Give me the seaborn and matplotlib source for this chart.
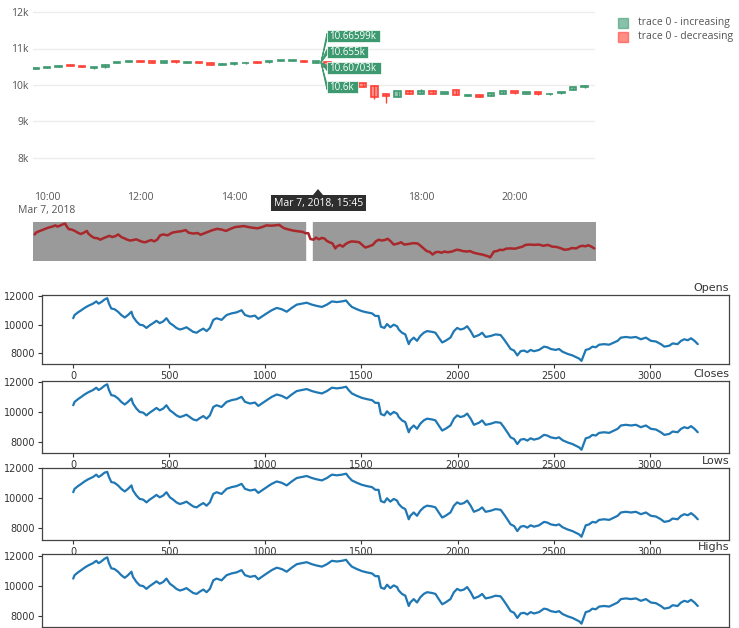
import matplotlib
matplotlib.use("Agg")
import matplotlib.pyplot as plt
import seaborn as sns
import pandas as pd
from matplotlib.patches import Rectangle, Polygon

W, H = 739, 628

# 15 minute candles, Mar 7 2018 (window shown in the zoomed chart)
candle_times = ["09:45", "10:00", "10:15", "10:30", "10:45", "11:00", "11:15", "11:30",
                "11:45", "12:00", "12:15", "12:30", "12:45", "13:00", "13:15", "13:30",
                "13:45", "14:00", "14:15", "14:30", "14:45", "15:00", "15:15", "15:30",
                "15:45", "16:00", "16:15", "16:30", "16:45", "17:00", "17:15", "17:30",
                "17:45", "18:00", "18:15", "18:30", "18:45", "19:00", "19:15", "19:30",
                "19:45", "20:00", "20:15", "20:30", "20:45", "21:00", "21:15", "21:30"]
candle_open = [10450, 10470, 10500, 10560, 10520, 10460, 10480, 10600,
               10630, 10660, 10650, 10610, 10660, 10600, 10620, 10610,
               10560, 10570, 10590, 10630, 10620, 10660, 10660, 10670,
               10607.03, 10620, 10500, 10420, 10050, 9970, 9750, 9670,
               9840, 9760, 9840, 9750, 9850, 9700, 9720, 9700,
               9760, 9820, 9760, 9800, 9740, 9770, 9860, 9930]
candle_high = [10480, 10500, 10540, 10570, 10530, 10490, 10570, 10630,
               10660, 10670, 10660, 10660, 10670, 10630, 10630, 10620,
               10590, 10600, 10620, 10640, 10660, 10690, 10690, 10680,
               10665.99, 10630, 10510, 10430, 10060, 9990, 9780, 9840,
               9850, 9900, 9850, 9810, 9860, 9740, 9730, 9790,
               9840, 9830, 9810, 9810, 9770, 9810, 9940, 9990]
candle_low = [10440, 10460, 10490, 10510, 10490, 10450, 10470, 10590,
              10620, 10630, 10590, 10600, 10610, 10590, 10590, 10540,
              10550, 10560, 10580, 10600, 10610, 10650, 10650, 10630,
              10600, 10490, 10410, 10340, 9930, 9620, 9500, 9660,
              9740, 9750, 9740, 9740, 9710, 9690, 9670, 9690,
              9750, 9760, 9750, 9730, 9730, 9760, 9850, 9920]
candle_close = [10470, 10490, 10530, 10520, 10500, 10480, 10560, 10620,
                10650, 10640, 10600, 10650, 10620, 10620, 10600, 10550,
                10580, 10590, 10610, 10610, 10650, 10680, 10680, 10640,
                10655, 10500, 10420, 10350, 9950, 9680, 9700, 9830,
                9750, 9820, 9750, 9800, 9720, 9730, 9680, 9780,
                9830, 9770, 9800, 9740, 9760, 9800, 9930, 9980]
hover_texts = ["10.66599k", "10.655k", "10.60703k", "10.6k"]

# full series (bar number -> price)
bar_index = [0, 7, 25, 42, 59, 77, 103, 120, 132, 146,
             163, 177, 186, 198, 215, 233, 250, 268, 285, 303,
             311, 329, 346, 364, 381, 398, 416, 433, 450, 468,
             485, 503, 520, 537, 555, 572, 589, 607, 624, 642,
             659, 677, 694, 711, 729, 746, 772, 798, 824, 850,
             876, 894, 920, 946, 963, 981, 1007, 1033, 1059, 1085,
             1111, 1137, 1163, 1189, 1215, 1242, 1268, 1294, 1320, 1346,
             1372, 1398, 1420, 1433, 1450, 1476, 1502, 1528, 1555, 1572,
             1589, 1601, 1619, 1633, 1650, 1668, 1685, 1694, 1711, 1728,
             1746, 1754, 1772, 1789, 1806, 1824, 1841, 1867, 1885, 1902,
             1920, 1937, 1963, 1981, 1998, 2015, 2033, 2050, 2068, 2085,
             2111, 2128, 2146, 2172, 2198, 2224, 2241, 2259, 2276, 2294,
             2311, 2328, 2346, 2363, 2380, 2398, 2424, 2450, 2467, 2485,
             2511, 2528, 2546, 2572, 2598, 2615, 2633, 2645, 2659, 2667,
             2685, 2702, 2719, 2737, 2763, 2789, 2815, 2833, 2850, 2876,
             2902, 2928, 2954, 2980, 3006, 3032, 3058, 3076, 3102, 3119,
             3145, 3163, 3180, 3198, 3215, 3233, 3250]
opens = [10440, 10665, 10850, 11000, 11160, 11300, 11460, 11615, 11460, 11570,
         11750, 11845, 11460, 11120, 11070, 10895, 10665, 10490, 10665, 10895,
         10555, 10215, 9990, 9945, 9760, 9945, 10100, 10260, 10100, 10215,
         10440, 10100, 9945, 9760, 9650, 9715, 9810, 9650, 9490, 9425,
         9580, 9715, 9540, 9760, 10325, 10440, 10325, 10665, 10780, 10850,
         11000, 10665, 10555, 10620, 10395, 10555, 10780, 11000, 11160, 11070,
         10895, 11160, 11390, 11460, 11525, 11390, 11300, 11230, 11390, 11615,
         11570, 11615, 11680, 11460, 11230, 11070, 10935, 10850, 10780, 10600,
         10600, 9850, 9760, 10035, 9810, 9990, 9880, 9650, 9425, 9310,
         8630, 8860, 9085, 8860, 9200, 9425, 9540, 9490, 9425, 9085,
         8745, 8860, 9085, 9540, 9760, 9650, 9715, 9880, 9540, 9130,
         9265, 9425, 9130, 9200, 9310, 9265, 8970, 8630, 8290, 8180,
         7840, 8135, 8180, 8070, 8225, 8135, 8225, 8455, 8410, 8290,
         8225, 8290, 8100, 7950, 7840, 7730, 7615, 7460, 7950, 8225,
         8290, 8455, 8410, 8590, 8630, 8590, 8745, 8860, 9085, 9130,
         9085, 9130, 8970, 9085, 8860, 8815, 8630, 8455, 8520, 8680,
         8630, 8860, 8970, 8900, 9040, 8860, 8630]
closes = [10440, 10665, 10850, 11000, 11160, 11300, 11460, 11615, 11460, 11570,
          11750, 11845, 11460, 11120, 11070, 10895, 10665, 10490, 10665, 10895,
          10555, 10215, 9990, 9945, 9760, 9945, 10100, 10260, 10100, 10215,
          10440, 10100, 9945, 9760, 9650, 9715, 9810, 9650, 9490, 9425,
          9580, 9715, 9540, 9760, 10325, 10440, 10325, 10665, 10780, 10850,
          11000, 10665, 10555, 10620, 10395, 10555, 10780, 11000, 11160, 11070,
          10895, 11160, 11390, 11460, 11525, 11390, 11300, 11230, 11390, 11615,
          11570, 11615, 11680, 11460, 11230, 11070, 10935, 10850, 10780, 10600,
          10600, 9850, 9760, 10035, 9810, 9990, 9880, 9650, 9425, 9310,
          8630, 8860, 9085, 8860, 9200, 9425, 9540, 9490, 9425, 9085,
          8745, 8860, 9085, 9540, 9760, 9650, 9715, 9880, 9540, 9130,
          9265, 9425, 9130, 9200, 9310, 9265, 8970, 8630, 8290, 8180,
          7840, 8135, 8180, 8070, 8225, 8135, 8225, 8455, 8410, 8290,
          8225, 8290, 8100, 7950, 7840, 7730, 7615, 7460, 7950, 8225,
          8290, 8455, 8410, 8590, 8630, 8590, 8745, 8860, 9085, 9130,
          9085, 9130, 8970, 9085, 8860, 8815, 8630, 8455, 8520, 8680,
          8630, 8860, 8970, 8900, 9040, 8860, 8630]
lows = [10380, 10605, 10790, 10940, 11100, 11240, 11400, 11555, 11400, 11510,
        11690, 11740, 11400, 11060, 11010, 10835, 10605, 10430, 10605, 10835,
        10495, 10155, 9930, 9885, 9700, 9885, 10040, 10200, 10040, 10155,
        10380, 10040, 9885, 9700, 9590, 9655, 9750, 9590, 9430, 9365,
        9520, 9655, 9480, 9700, 10265, 10380, 10265, 10605, 10720, 10790,
        10940, 10605, 10495, 10560, 10335, 10495, 10720, 10940, 11100, 11010,
        10835, 11100, 11330, 11400, 11465, 11330, 11240, 11170, 11330, 11555,
        11510, 11555, 11620, 11400, 11170, 11010, 10875, 10790, 10720, 10540,
        10540, 9790, 9700, 9975, 9750, 9930, 9820, 9590, 9365, 9250,
        8570, 8800, 9025, 8800, 9140, 9365, 9480, 9430, 9365, 9025,
        8685, 8800, 9025, 9480, 9700, 9590, 9655, 9820, 9480, 9070,
        9205, 9365, 9070, 9140, 9250, 9205, 8910, 8570, 8230, 8120,
        7780, 8075, 8120, 8010, 8165, 8075, 8165, 8395, 8350, 8230,
        8165, 8230, 8040, 7890, 7780, 7670, 7555, 7400, 7890, 8165,
        8230, 8395, 8350, 8530, 8570, 8530, 8685, 8800, 9025, 9070,
        9025, 9070, 8910, 9025, 8800, 8755, 8570, 8395, 8460, 8620,
        8570, 8800, 8910, 8840, 8980, 8800, 8570]
highs = [10490, 10715, 10900, 11050, 11210, 11350, 11510, 11665, 11510, 11620,
         11800, 11895, 11510, 11170, 11120, 10945, 10715, 10540, 10715, 10945,
         10605, 10265, 10040, 9995, 9810, 9995, 10150, 10310, 10150, 10265,
         10490, 10150, 9995, 9810, 9700, 9765, 9860, 9700, 9540, 9475,
         9630, 9765, 9590, 9810, 10375, 10490, 10375, 10715, 10830, 10900,
         11050, 10715, 10605, 10670, 10445, 10605, 10830, 11050, 11210, 11120,
         10945, 11210, 11440, 11510, 11575, 11440, 11350, 11280, 11440, 11665,
         11620, 11665, 11730, 11510, 11280, 11120, 10985, 10900, 10830, 10650,
         10650, 9900, 9810, 10085, 9860, 10040, 9930, 9700, 9475, 9360,
         8680, 8910, 9135, 8910, 9250, 9475, 9590, 9540, 9475, 9135,
         8795, 8910, 9135, 9590, 9810, 9700, 9765, 9930, 9590, 9180,
         9315, 9475, 9180, 9250, 9360, 9315, 9020, 8680, 8340, 8230,
         7890, 8185, 8230, 8120, 8275, 8185, 8275, 8505, 8460, 8340,
         8275, 8340, 8150, 8000, 7890, 7780, 7665, 7510, 8000, 8275,
         8340, 8505, 8460, 8640, 8680, 8640, 8795, 8910, 9135, 9180,
         9135, 9180, 9020, 9135, 8910, 8865, 8680, 8505, 8570, 8730,
         8680, 8910, 9020, 8950, 9090, 8910, 8680]
window_start, window_end = 1567, 1615

GREEN, RED = "#3D9970", "#FF4136"
PLOTLY_FONT = ["Open Sans", "DejaVu Sans"]

sns.set_style("ticks")
plt.rcParams["font.family"] = ["DejaVu Sans"]


def px_rect(left, top, right, bottom):
    return [left / W, 1 - bottom / H, (right - left) / W, (bottom - top) / H]


fig = plt.figure(figsize=(W / 100, H / 100), dpi=100)
fig.patch.set_facecolor("white")

# candlestick panel (plotly look)
candles = pd.DataFrame({"time": candle_times, "open": candle_open, "high": candle_high,
                        "low": candle_low, "close": candle_close})
hm = candles["time"].str.split(":", expand=True).astype(int)
candles["hour"] = hm[0] + hm[1] / 60

ax = fig.add_axes(px_rect(33, 3, 595, 185))
for s in ax.spines.values():
    s.set_visible(False)
ax.set_xlim(9.70, 21.72)
ax.set_ylim(7250, 12250)
ax.yaxis.grid(True, color="#ececec", lw=1)
ax.xaxis.grid(False)
ax.set_axisbelow(True)
for _, r in candles.iterrows():
    c = GREEN if r["close"] >= r["open"] else RED
    ax.vlines(r["hour"], r["low"], r["high"], color=c, lw=1, zorder=2)
    ax.bar(r["hour"], r["close"] - r["open"], bottom=r["open"], width=0.14,
           color=c, alpha=0.55, edgecolor="none", zorder=3)
    ax.bar(r["hour"], r["close"] - r["open"], bottom=r["open"], width=0.14,
           fill=False, edgecolor=c, lw=1.2, zorder=4)
ax.set_yticks([8000, 9000, 10000, 11000, 12000],
              ["8k", "9k", "10k", "11k", "12k"], fontfamily=PLOTLY_FONT,
              fontsize=7.5, color="#555555")
# the 16:00 label sits under the hover box, so it is left blank
ax.set_xticks([10, 12, 14, 16, 18, 20],
              ["10:00\nMar 7, 2018", "12:00", "14:00", "", "18:00", "20:00"],
              fontfamily=PLOTLY_FONT, fontsize=7.5, color="#555555")
ax.tick_params(length=0, pad=3)
ax.tick_params(axis="x", pad=5)

# range slider
axs = fig.add_axes(px_rect(33, 222, 596, 261))
axs.axis("off")
axs.set_xlim(-10, 3260)
axs.set_ylim(7000, 12050)
axs.axvspan(-10, window_start, color="#9a9a9a", zorder=1)
axs.axvspan(window_end, 3260, color="#9a9a9a", zorder=1)
sns.lineplot(x=bar_index, y=opens, ax=axs, color="#a8282b", lw=1.8, legend=False, zorder=3)

# matplotlib line panels
panels = [("Opens", opens, (42, 295, 729, 364)),
          ("Closes", closes, (42, 381, 729, 453)),
          ("Lows", lows, (42, 468, 729, 540)),
          ("Highs", highs, (42, 554, 729, 627))]
for name, series, box in panels:
    a = fig.add_axes(px_rect(*box))
    sns.lineplot(x=bar_index, y=series, ax=a, color="#1f77b4", lw=1.6, legend=False)
    a.set_yticks([8000, 10000, 12000])
    a.set_xticks([0, 500, 1000, 1500, 2000, 2500, 3000])
    a.tick_params(labelsize=7, length=3, pad=2, colors="#333333")
    a.set_title(name, loc="right", fontsize=8, pad=3, color="#333333")
    for s in a.spines.values():
        s.set_linewidth(0.9)
        s.set_color("#444444")
    if name == "Highs":
        # bottom labels fall outside the picture
        a.tick_params(axis="x", labelbottom=False)

# overlay in pixel coordinates: legend and hover labels
ov = fig.add_axes([0, 0, 1, 1])
ov.set_xlim(0, W)
ov.set_ylim(H, 0)
ov.axis("off")

ov.add_patch(Rectangle((618, 18), 10, 10, facecolor=GREEN, alpha=0.6, edgecolor=GREEN, lw=1))
ov.add_patch(Rectangle((618, 32), 10, 10, facecolor=RED, alpha=0.6, edgecolor=RED, lw=1))
ov.text(638, 23, "trace 0 - increasing", fontsize=7.5, color="#555555",
        family=PLOTLY_FONT, va="center", ha="left")
ov.text(638, 37, "trace 0 - decreasing", fontsize=7.5, color="#555555",
        family=PLOTLY_FONT, va="center", ha="left")

boxes = [(30, 42, 380), (46, 58, 368), (62, 74, 381), (81, 93, 358)]
for (top, bottom, right), txt in zip(boxes, hover_texts):
    cy = (top + bottom) / 2
    ov.add_patch(Polygon([(321, 62.5), (327, cy - 2.5), (327, cy + 2.5)],
                         closed=True, facecolor=GREEN, edgecolor=GREEN, lw=0.8))
    ov.add_patch(Rectangle((327, top), right - 327, bottom - top, facecolor=GREEN,
                           edgecolor="white", lw=0.5))
    ov.text(329, cy + 0.5, txt, fontsize=7, color="white", family=PLOTLY_FONT,
            va="center", ha="left")

ov.add_patch(Polygon([(318, 189), (313, 195), (323, 195)], closed=True,
                     facecolor="#2e2e2e", edgecolor="none"))
ov.add_patch(Rectangle((271, 195), 95, 16, facecolor="#2e2e2e", edgecolor="none"))
ov.text(318.5, 203.5, "Mar 7, 2018, 15:45", fontsize=7.5, color="white",
        family=PLOTLY_FONT, va="center", ha="center")

fig.savefig("out.png", dpi=100)
